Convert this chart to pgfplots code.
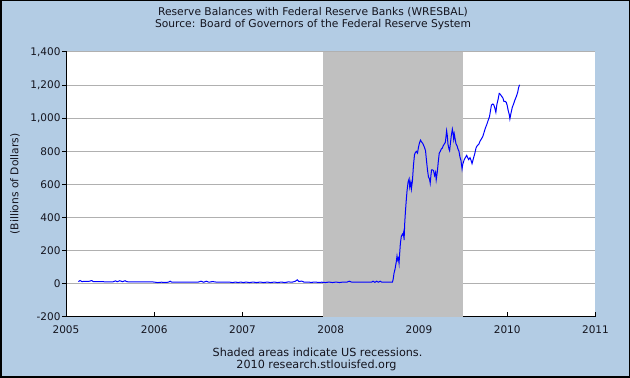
\documentclass[border=0pt]{standalone}
\usepackage{pgfplots}
\pgfplotsset{compat=1.18}
\usepackage{fontspec}
\setmainfont{DejaVu Sans}
\definecolor{bgblue}{RGB}{179,204,228}
\definecolor{shade}{RGB}{192,192,192}
\definecolor{gridgray}{RGB}{176,176,176}
\definecolor{txt}{RGB}{20,20,30}
\begin{document}
\begin{tikzpicture}[x=1pt,y=1pt]
\fill[bgblue] (0,0) rectangle (630,378);
\draw[line width=1.5pt] (0.75,0.75) rectangle (629.25,377.25);
\begin{axis}[
  at={(66pt,61pt)}, anchor=south west,
  scale only axis, width=529.5pt, height=265pt,
  xmin=2005, xmax=2011, ymin=-200, ymax=1400,
  axis x line*=bottom, axis y line*=left,
  axis line style={black, line width=1pt},
  axis background/.style={fill=white},
  xtick={2005,2006,...,2011},
  ytick={-200,0,...,1400},
  ymajorgrids, major grid style={gridgray, line width=1pt},
  tick align=inside, major tick length=5pt,
  tick style={black, line width=1pt},
  ytick style={xshift=-4pt},
  /pgf/number format/assume math mode=true,
  xticklabel style={/pgf/number format/1000 sep=, font=\fontsize{10.5}{12}\selectfont, text=txt, yshift=-5pt},
  yticklabel style={/pgf/number format/1000 sep={,}, font=\fontsize{10.5}{12}\selectfont, text=txt, xshift=-2pt},
]
\addplot[fill=shade, draw=none] coordinates {(2007.917,-197) (2007.917,1400) (2009.5,1400) (2009.5,-197)} -- cycle;
\addplot[blue, line width=1pt] coordinates {
(2005.14,14) (2005.16,20) (2005.18,14) (2005.22,15) (2005.26,15) (2005.29,20) (2005.31,14) (2005.36,13)
(2005.42,13) (2005.48,12) (2005.53,12) (2005.56,18) (2005.58,13) (2005.61,19) (2005.64,13) (2005.67,19)
(2005.69,13) (2005.74,12) (2005.80,12) (2005.86,12) (2005.92,12) (2005.98,12) (2006.04,8) (2006.08,10)
(2006.12,9) (2006.16,10) (2006.18,16) (2006.20,10) (2006.26,11) (2006.32,11) (2006.38,11) (2006.44,11)
(2006.50,11) (2006.53,16) (2006.56,10) (2006.59,16) (2006.62,10) (2006.66,14) (2006.70,11) (2006.76,11)
(2006.82,11) (2006.86,10) (2006.89,8) (2006.92,11) (2006.95,8) (2006.98,11) (2007.01,8) (2007.04,11)
(2007.08,8) (2007.12,11) (2007.16,8) (2007.20,11) (2007.24,8) (2007.28,11) (2007.32,8) (2007.36,11)
(2007.40,8) (2007.44,11) (2007.48,8) (2007.52,12) (2007.56,10) (2007.60,16) (2007.62,24) (2007.64,14)
(2007.67,17) (2007.70,10) (2007.74,11) (2007.78,9) (2007.82,11) (2007.86,9) (2007.90,10) (2007.94,8)
(2007.98,11) (2008.02,8) (2008.06,11) (2008.10,8) (2008.14,11) (2008.18,10) (2008.21,16) (2008.24,10)
(2008.30,11) (2008.36,11) (2008.42,11) (2008.46,10) (2008.48,16) (2008.50,9) (2008.52,16) (2008.54,10)
(2008.56,16) (2008.58,10) (2008.64,11) (2008.698,10)
(2008.706,24) (2008.717,64) (2008.728,88) (2008.743,134) (2008.751,168) (2008.759,144) (2008.766,154)
(2008.774,124) (2008.781,184) (2008.789,244) (2008.800,288) (2008.812,300) (2008.819,294) (2008.827,314)
(2008.831,264) (2008.838,364) (2008.846,434) (2008.857,514) (2008.865,564) (2008.876,614) (2008.888,634)
(2008.895,584) (2008.907,614) (2008.914,574) (2008.926,624) (2008.937,714) (2008.949,780) (2008.960,794)
(2008.971,800) (2008.983,790) (2008.994,824) (2009.005,850) (2009.017,868) (2009.028,858) (2009.040,850)
(2009.051,838) (2009.062,824) (2009.074,804) (2009.085,744) (2009.097,684) (2009.108,644) (2009.119,634)
(2009.127,608) (2009.135,654) (2009.142,688) (2009.154,688) (2009.165,684) (2009.176,654) (2009.188,674)
(2009.195,628) (2009.207,674) (2009.218,734) (2009.229,788) (2009.241,800) (2009.252,814) (2009.264,820)
(2009.275,834) (2009.286,844) (2009.298,854) (2009.305,884) (2009.313,924) (2009.321,894) (2009.328,844)
(2009.340,814) (2009.347,804) (2009.355,844) (2009.366,894) (2009.378,934) (2009.385,914) (2009.393,874)
(2009.400,904) (2009.408,880) (2009.419,846) (2009.431,834) (2009.442,814) (2009.453,800) (2009.465,764)
(2009.476,744) (2009.488,694) (2009.495,720)
(2009.510,746) (2009.525,762) (2009.540,776) (2009.552,762) (2009.563,750) (2009.578,762) (2009.590,746)
(2009.601,726) (2009.616,756) (2009.632,786) (2009.647,822) (2009.662,836) (2009.677,842) (2009.692,862)
(2009.708,876) (2009.723,890) (2009.738,916) (2009.753,942) (2009.768,962) (2009.783,986) (2009.799,1010)
(2009.810,1046) (2009.821,1080) (2009.837,1086) (2009.848,1080) (2009.859,1062) (2009.871,1036)
(2009.882,1082) (2009.897,1116) (2009.909,1150) (2009.920,1146) (2009.935,1134) (2009.951,1122)
(2009.962,1102) (2009.977,1102) (2009.989,1096) (2010.000,1076) (2010.011,1046) (2010.023,1022)
(2010.030,996) (2010.042,1030) (2010.057,1066) (2010.072,1086) (2010.087,1110) (2010.102,1130)
(2010.118,1156) (2010.129,1186) (2010.140,1202)
};
\end{axis}
\begin{scope}[every node/.style={text=txt, inner sep=0pt}]
\node[font=\fontsize{10.7}{12}\selectfont] at (313,366) {Reserve Balances with Federal Reserve Banks (WRESBAL)};
\node[font=\fontsize{10.7}{12}\selectfont] at (313,353) {Source: Board of Governors of the Federal Reserve System};
\node[rotate=90, font=\fontsize{10.7}{12}\selectfont] at (15,194) {(Billions of Dollars)};
\node[font=\fontsize{11.2}{12}\selectfont] at (317.5,26) {Shaded areas indicate US recessions.};
\node[font=\fontsize{11.2}{12}\selectfont] at (316.5,13) {2010 research.stlouisfed.org};
\end{scope}
\end{tikzpicture}
\end{document}
